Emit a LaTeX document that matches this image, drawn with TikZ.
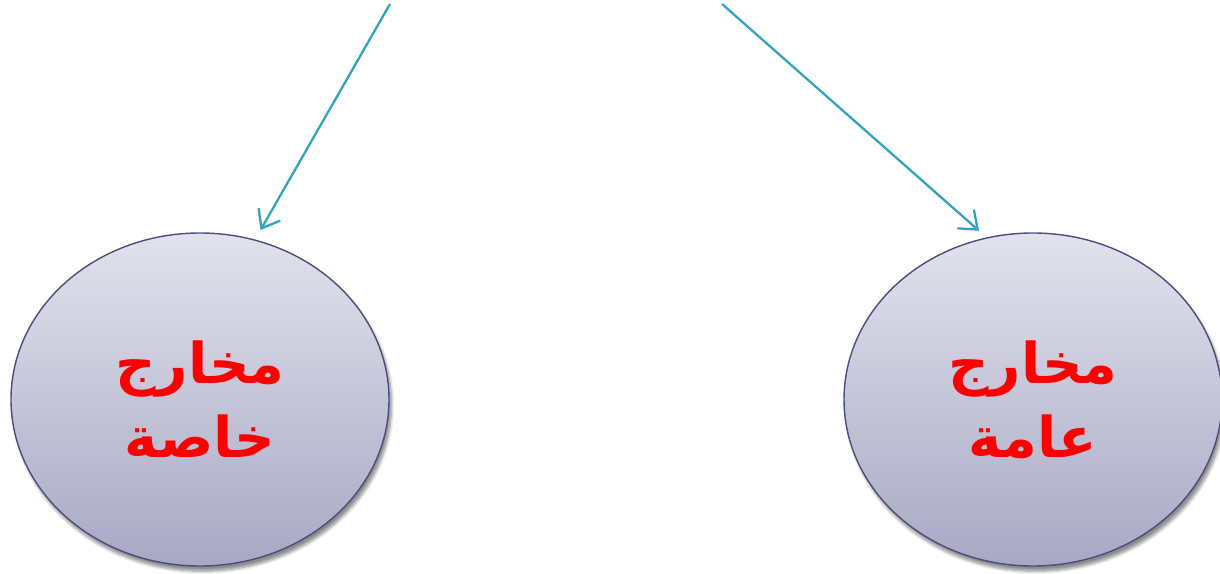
\documentclass[tikz,border=0pt]{standalone}
\usepackage{fontspec}
\usepackage{xcolor}
\usepackage{tikz}
\usetikzlibrary{arrows.meta, shapes.geometric, shadows.blur}
\TeXXeTstate=1
\newfontfamily\arabicfont[Script=Arabic]{DejaVu Sans}

\definecolor{arrowteal}{RGB}{49,163,191}
\definecolor{ellborder}{RGB}{74,78,126}
\definecolor{elltop}{RGB}{226,226,237}
\definecolor{ellbottom}{RGB}{168,168,196}

\tikzset{
    outlet/.style={ellipse, draw=ellborder, line width=0.8pt,
        top color=elltop, bottom color=ellbottom,
        minimum width=7.56cm, minimum height=6.66cm,
        blur shadow={shadow xshift=1.5pt, shadow yshift=-3pt, shadow opacity=45, shadow blur steps=6},
        text=red, font=\arabicfont\bfseries\fontsize{32}{42}\selectfont, align=center},
    branch/.style={arrowteal, line width=1.3pt, -{Straight Barb[length=3.2mm, width=5mm, line width=1.3pt]}}
}

\begin{document}
\begin{tikzpicture}
    \useasboundingbox (0,0) rectangle (24.4,11.46);

    % the two ellipses
    \node[outlet] (khassa) at (4.0,3.47) {\beginR مخارج\endR\\ \beginR خاصة\endR};
    \node[outlet] (amma) at (20.66,3.47) {\beginR مخارج\endR\\ \beginR عامة\endR};

    % free ends of the arrows at the top
    \coordinate (ltop) at (7.8,11.38);
    \coordinate (rtop) at (14.44,11.38);

    % arrows
    \draw[branch, shorten >=0.22cm] (ltop) -- (khassa.71);
    \draw[branch, shorten >=0.2cm] (rtop) -- (amma.106);
\end{tikzpicture}
\end{document}
